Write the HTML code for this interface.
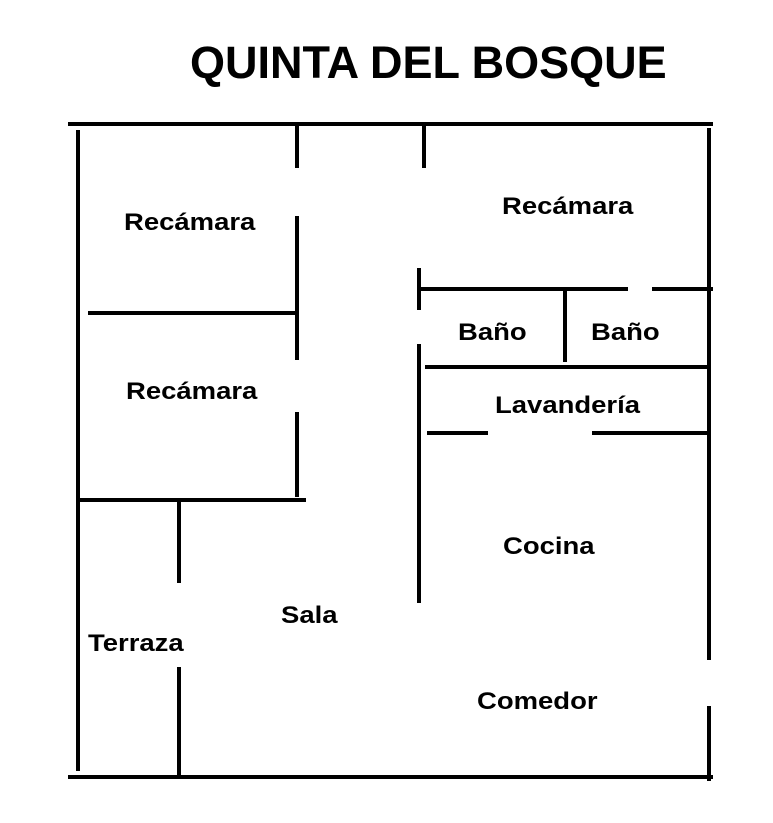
<!DOCTYPE html>
<html><head><meta charset="utf-8"><style>
html,body{margin:0;padding:0;background:#fff;}
svg{display:block;}
text{font-family:"Liberation Sans",Arial,sans-serif;font-weight:bold;fill:#000;}
</style></head><body>
<svg width="773" height="823" viewBox="0 0 773 823" xmlns="http://www.w3.org/2000/svg">
<text x="190" y="78" font-size="45">QUINTA DEL BOSQUE</text>
<g stroke="#000" stroke-width="4" fill="none" stroke-linecap="butt">
<line x1="68" y1="124" x2="713" y2="124"/>
<line x1="68" y1="777" x2="713" y2="777"/>
<line x1="78" y1="130" x2="78" y2="771"/>
<line x1="709" y1="128" x2="709" y2="660"/>
<line x1="709" y1="706" x2="709" y2="781"/>
<line x1="297" y1="124" x2="297" y2="168"/>
<line x1="424" y1="124" x2="424" y2="168"/>
<line x1="297" y1="216" x2="297" y2="360"/>
<line x1="297" y1="412" x2="297" y2="497"/>
<line x1="88" y1="313" x2="297" y2="313"/>
<line x1="76" y1="500" x2="306" y2="500"/>
<line x1="179" y1="500" x2="179" y2="583"/>
<line x1="179" y1="667" x2="179" y2="777"/>
<line x1="419" y1="268" x2="419" y2="310"/>
<line x1="419" y1="344" x2="419" y2="603"/>
<line x1="419" y1="289" x2="628" y2="289"/>
<line x1="652" y1="289" x2="713" y2="289"/>
<line x1="565" y1="289" x2="565" y2="362"/>
<line x1="425" y1="367" x2="709" y2="367"/>
<line x1="427" y1="433" x2="488" y2="433"/>
<line x1="592" y1="433" x2="709" y2="433"/>
</g>
<g font-size="24">
<text transform="translate(124,230) scale(1.145,1)">Recámara</text>
<text transform="translate(502,214) scale(1.145,1)">Recámara</text>
<text transform="translate(126,399) scale(1.145,1)">Recámara</text>
<text transform="translate(458,340) scale(1.145,1)">Baño</text>
<text transform="translate(591,340) scale(1.145,1)">Baño</text>
<text transform="translate(495,413) scale(1.145,1)">Lavandería</text>
<text transform="translate(503,554) scale(1.145,1)">Cocina</text>
<text transform="translate(281,623) scale(1.145,1)">Sala</text>
<text transform="translate(88,651) scale(1.145,1)">Terraza</text>
<text transform="translate(477,709) scale(1.145,1)">Comedor</text>
</g>
</svg>
</body></html>
